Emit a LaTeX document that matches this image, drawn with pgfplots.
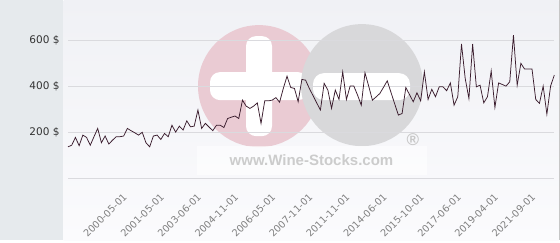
\documentclass[border=0pt]{standalone}
\usepackage{pgfplots}
\pgfplotsset{compat=1.18}
\usepackage{pgfplotstable}
\usepackage{fontspec}
\setmainfont{DejaVu Sans}
\newfontfamily\wmfont{Liberation Sans}
\definecolor{panel}{RGB}{230,234,237}
\definecolor{bgtop}{RGB}{240,241,245}
\definecolor{bgbot}{RGB}{251,251,253}
\definecolor{pinkwm}{RGB}{234,203,211}
\definecolor{greywm}{RGB}{216,216,218}
\definecolor{gridc}{RGB}{218,218,222}
\definecolor{linec}{RGB}{58,28,45}
\pgfplotstableread{
i v
0 136
1 143
2 177
3 141
4 187
5 177
6 143
7 180
8 216
9 154
10 183
11 148
12 165
13 180
14 180
15 183
16 216
17 206
18 197
19 187
20 199
21 154
22 136
23 183
24 187
25 168
26 194
27 180
28 230
29 200
30 226
31 209
32 249
33 223
34 226
35 296
36 216
37 238
38 222
39 206
40 230
41 230
42 220
43 259
44 265
45 270
46 259
47 339
48 313
49 303
50 313
51 327
52 238
53 336
54 336
55 339
56 350
57 330
58 390
59 443
60 394
61 390
62 332
63 429
64 426
65 390
66 359
67 327
68 296
69 412
70 383
71 303
72 383
73 342
74 462
75 342
76 400
77 400
78 361
79 317
80 458
81 400
82 339
83 353
84 368
85 395
86 423
87 373
88 323
89 274
90 281
91 394
92 363
93 332
94 371
95 336
96 462
97 342
98 386
99 354
100 397
101 397
102 380
103 414
104 317
105 354
106 583
107 433
108 346
109 583
110 397
111 404
112 327
113 354
114 466
115 307
116 414
117 407
118 400
119 419
120 622
121 404
122 499
123 474
124 474
125 474
126 342
127 325
128 400
129 278
130 400
131 448
}\prices
\begin{document}
\begin{tikzpicture}[x=1pt,y=1pt]
% backgrounds
\fill[white] (0,0) rectangle (560,240);
\fill[panel] (0,0) rectangle (62.5,240);
\shade[top color=bgtop, bottom color=bgbot] (63.5,0) rectangle (558.5,240);
\fill[gray!45] (558.5,0) rectangle (559.5,240);
% watermark
\fill[pinkwm] (259,154) circle (61);
\fill[white, rounded corners=10pt] (246,104) rectangle (272,204);
\fill[white, rounded corners=10pt] (210,140) rectangle (308,168);
\fill[greywm] (362,155) circle (61);
\fill[white, rounded corners=11pt] (313,140) rectangle (410,167);
\fill[white, opacity=0.6] (197,65) rectangle (427,94);
\node[text=black!20, font=\wmfont\bfseries\fontsize{15}{15}\selectfont] at (311.5,80) {www.Wine-Stocks.com};
\node[text=black!22, font=\wmfont\bfseries\fontsize{17}{17}\selectfont] at (413,100) {®};
\begin{axis}[
  at={(68pt,62pt)}, anchor=south west,
  width=486.3pt, height=178pt, scale only axis,
  xmin=0, xmax=131, ymin=0, ymax=774,
  axis line style={draw=none},
  major tick length=0pt,
  ymajorgrids, grid style={color=gridc, line width=0.8pt},
  ytick={0,200,400,600},
  yticklabels={,200 \$,400 \$,600 \$},
  yticklabel style={font=\fontsize{10.5}{12}\selectfont, text=black!80, xshift=-5pt},
  xtick={16,26,...,126},
  xticklabels={2000-05-01,2001-05-01,2003-06-01,2004-11-01,2006-05-01,2007-11-01,2011-11-01,2014-06-01,2015-10-01,2017-06-01,2019-04-01,2021-09-01},
  xticklabel style={font=\fontsize{9.7}{11}\selectfont, text=black!50, rotate=45, anchor=north east, xshift=-10.5pt, yshift=-3.5pt},
  clip=false,
]
\addplot[color=linec, line width=0.75pt, mark=none] table[x=i, y=v] {\prices};
\end{axis}
\end{tikzpicture}
\end{document}
